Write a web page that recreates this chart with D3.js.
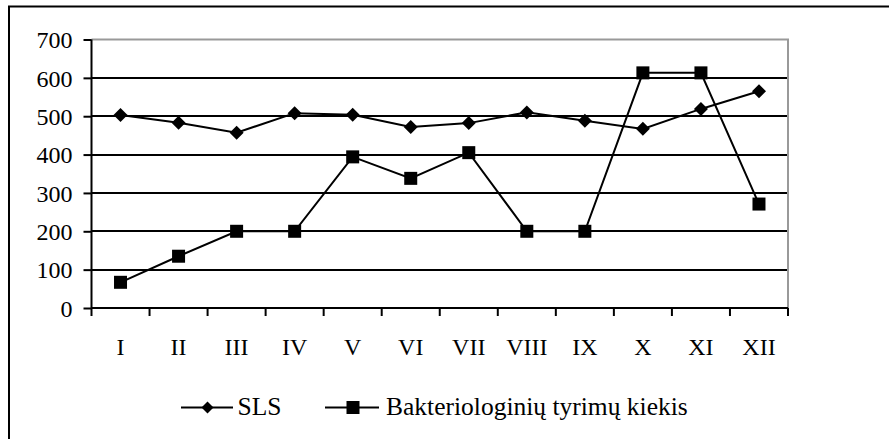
<!DOCTYPE html>
<html>
<head>
<meta charset="utf-8">
<script src="https://cdn.jsdelivr.net/npm/d3@7"></script>
<style>
  body { margin: 0; background: #fff; }
  svg text { font-family: "Liberation Serif", "Times New Roman", serif; fill: #000; }
</style>
</head>
<body>
<svg id="chart" width="889" height="439"></svg>
<script>
const months = ["I","II","III","IV","V","VI","VII","VIII","IX","X","XI","XII"];
const slsValues = [503, 483, 457, 508, 504, 472, 482, 510, 488, 467, 519, 565];
const bakValues = [67, 135, 200, 200, 394, 338, 405, 200, 200, 613, 613, 271];
const yTicks = [0, 100, 200, 300, 400, 500, 600, 700];
const seriesNames = ["SLS", "Bakteriologinių tyrimų kiekis"];

(function () {
const svg = d3.select("#chart");
const pLeft = 91.5, pRight = 788, pTop = 39.5, pBottom = 308;

const x = d3.scaleBand().domain(months).range([pLeft, pRight]).padding(0);
const y = d3.scaleLinear().domain([0, 700]).range([pBottom, pTop]);

// outer frame (extends beyond canvas on right/bottom)
svg.append("rect").attr("x", 9).attr("y", 6.5).attr("width", 1000).attr("height", 1000)
  .attr("fill", "none").attr("stroke", "#000").attr("stroke-width", 2);

// gridlines
svg.append("g").selectAll("line").data(yTicks.filter(d => d > 0 && d < 700)).join("line")
  .attr("x1", pLeft).attr("x2", pRight)
  .attr("y1", d => Math.round(y(d))).attr("y2", d => Math.round(y(d)))
  .attr("stroke", "#000").attr("stroke-width", 2);

// plot area border top/right (grey)
svg.append("path")
  .attr("d", `M${pLeft},${y(700)}H${pRight}V${pBottom}`)
  .attr("fill", "none").attr("stroke", "#999").attr("stroke-width", 2);

// y axis
const yAxis = d3.axisLeft(y).tickValues(yTicks).tickSize(8).tickPadding(11).tickFormat(d3.format("d"));
const gy = svg.append("g").attr("transform", `translate(${pLeft},0)`).call(yAxis);
gy.select(".domain").attr("stroke", "#000").attr("stroke-width", 2).attr("d", `M0,${y(700)}V${pBottom}`);
gy.selectAll(".tick line").attr("stroke", "#000").attr("stroke-width", 2);
gy.selectAll(".tick text").attr("font-size", 24).attr("font-family", "Liberation Serif").attr("dy", "0.34em");

// x axis
const xAxis = d3.axisBottom(x).tickSize(0).tickPadding(30);
const gx = svg.append("g").attr("transform", `translate(0,${pBottom})`).call(xAxis);
gx.select(".domain").attr("stroke", "#000").attr("stroke-width", 2).attr("d", `M${pLeft},0H${pRight}`);
gx.selectAll(".tick text").attr("font-size", 24).attr("font-family", "Liberation Serif");
// category boundary ticks
const bounds = months.map(m => x(m)).concat([pRight]);
gx.append("g").selectAll("line").data(bounds).join("line")
  .attr("x1", d => d).attr("x2", d => d).attr("y1", 0).attr("y2", 8)
  .attr("stroke", "#000").attr("stroke-width", 2);

const cx = m => x(m) + x.bandwidth() / 2;
const line = d3.line().x((d, i) => cx(months[i])).y(d => y(d));

// series lines
svg.append("path").datum(slsValues).attr("d", line)
  .attr("fill", "none").attr("stroke", "#000").attr("stroke-width", 2);
svg.append("path").datum(bakValues).attr("d", line)
  .attr("fill", "none").attr("stroke", "#000").attr("stroke-width", 2);

const diamond = (s) => `M0,${-s}L${s},0L0,${s}L${-s},0Z`;
svg.append("g").selectAll("path").data(slsValues).join("path")
  .attr("transform", (d, i) => `translate(${cx(months[i])},${y(d)})`)
  .attr("d", diamond(7)).attr("fill", "#000");
svg.append("g").selectAll("rect").data(bakValues).join("rect")
  .attr("x", (d, i) => cx(months[i]) - 6.5).attr("y", d => y(d) - 6.5)
  .attr("width", 13).attr("height", 13).attr("fill", "#000");

// legend
const ly = 407.5;
const leg = svg.append("g");
leg.append("line").attr("x1", 181).attr("x2", 233).attr("y1", ly).attr("y2", ly).attr("stroke", "#000").attr("stroke-width", 2);
leg.append("path").attr("transform", `translate(207.5,${ly})`).attr("d", diamond(6)).attr("fill", "#000");
leg.append("text").attr("x", 237.5).attr("y", 415).attr("font-size", 25.5).text(seriesNames[0]);
leg.append("line").attr("x1", 325).attr("x2", 379).attr("y1", ly).attr("y2", ly).attr("stroke", "#000").attr("stroke-width", 2);
leg.append("rect").attr("x", 346.5).attr("y", ly - 6.5).attr("width", 13).attr("height", 13).attr("fill", "#000");
leg.append("text").attr("x", 386).attr("y", 415).attr("font-size", 25.5).text(seriesNames[1]);
})();
</script>
</body>
</html>
